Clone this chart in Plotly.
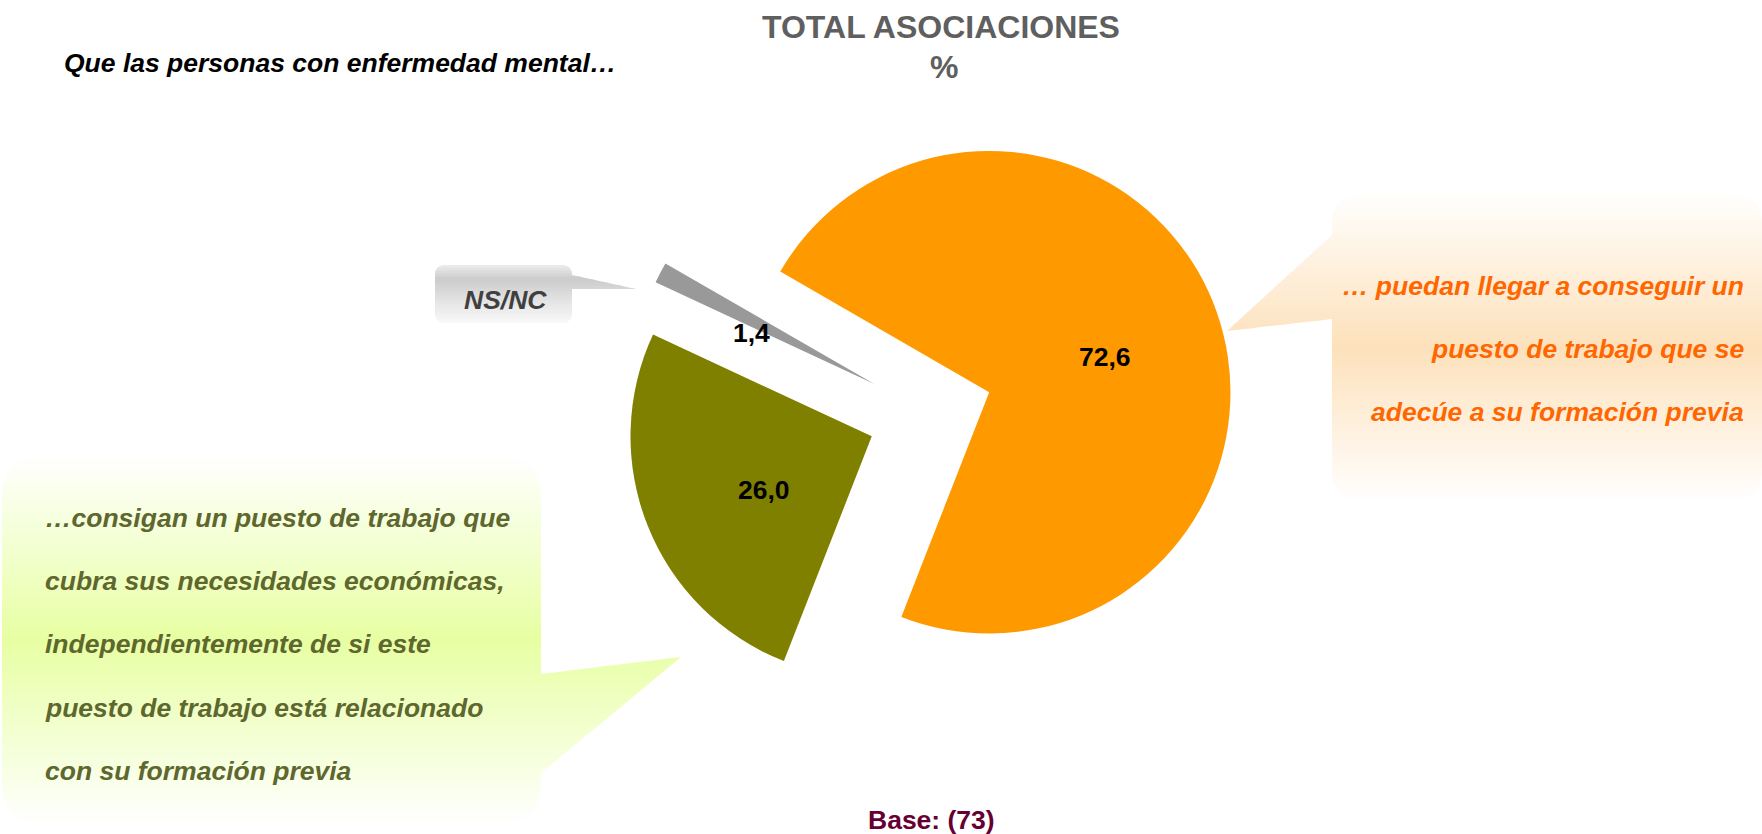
import math
import plotly.graph_objects as go

W, H = 1762, 834

# ---------------- data ----------------
categories = ["Adecuado a formación previa", "Cubra necesidades económicas", "NS/NC"]
values = [72.6, 26.0, 1.4]
slice_colors = ["#FF9900", "#808000", "#999999"]

title_lines = ["TOTAL ASOCIACIONES", "%"]
subtitle = "Que las personas con enfermedad mental…"
base_text = "Base: (73)"
orange_lines = ["… puedan llegar a conseguir un", "puesto de trabajo que se", "adecúe a su formación previa"]
green_lines = ["…consigan un puesto de trabajo que", "cubra sus necesidades económicas,",
               "independientemente de si este", "puesto de trabajo está relacionado",
               "con su formación previa"]
nsnc_label = "NS/NC"

FONT = "Liberation Sans, Arial, sans-serif"


def px(x):
    return x / W


def py(y):
    return 1 - y / H


fig = go.Figure()
fig.add_trace(go.Pie(
    labels=categories, values=values, sort=False, direction="clockwise", rotation=-60,
    pull=[0.26, 0.26, 0.26],
    marker=dict(colors=slice_colors, line=dict(width=0)),
    textinfo="none", hoverinfo="label+value", showlegend=False,
    domain=dict(x=[px(930 - 400), px(930 + 400)], y=[py(413 + 304), py(413 - 304)]),
))


# ---------------- gradient speech bubbles ----------------
def hex2rgb(h):
    h = h.lstrip("#")
    return [int(h[i:i + 2], 16) for i in (0, 2, 4)]


def grad(stops, f):
    f = max(0.0, min(1.0, f))
    for (f0, c0), (f1, c1) in zip(stops[:-1], stops[1:]):
        if f0 <= f <= f1:
            t = 0 if f1 == f0 else (f - f0) / (f1 - f0)
            a, b = hex2rgb(c0), hex2rgb(c1)
            return "rgb(%d,%d,%d)" % tuple(round(a[i] + (b[i] - a[i]) * t) for i in range(3))
    return stops[-1][1]


def bubble_polygon(x0, y0, x1, y1, r, pointer_side, pointer):
    pts = []
    n = 10

    def arc(cx, cy, a0, a1):
        out = []
        for k in range(n + 1):
            a = math.radians(a0 + (a1 - a0) * k / n)
            out.append((cx + r * math.cos(a), cy + r * math.sin(a)))
        return out
    pts += arc(x0 + r, y0 + r, 180, 270)
    pts += arc(x1 - r, y0 + r, 270, 360)
    if pointer_side == "right":
        pts += pointer
    pts += arc(x1 - r, y1 - r, 0, 90)
    pts += arc(x0 + r, y1 - r, 90, 180)
    if pointer_side == "left":
        pts += pointer
    return pts


def clip(poly, y, keep_below):
    def inside(p):
        return p[1] >= y if keep_below else p[1] <= y
    out = []
    for i in range(len(poly)):
        cur, prev = poly[i], poly[i - 1]
        if inside(cur):
            if not inside(prev):
                t = (y - prev[1]) / (cur[1] - prev[1])
                out.append((prev[0] + t * (cur[0] - prev[0]), y))
            out.append(cur)
        elif inside(prev):
            t = (y - prev[1]) / (cur[1] - prev[1])
            out.append((prev[0] + t * (cur[0] - prev[0]), y))
    return out


shapes = []


def add_bubble(x0, y0, x1, y1, r, side, pointer, stops, step=4):
    poly = bubble_polygon(x0, y0, x1, y1, r, side, pointer)
    ys = [p[1] for p in poly]
    top, bot = min(ys), max(ys)
    y = top
    while y < bot:
        ya, yb = y - 0.6, min(y + step, bot) + 0.6
        band = clip(clip(poly, ya, True), yb, False)
        if len(band) >= 3:
            f = ((y + step / 2) - y0) / (y1 - y0)
            path = "M " + " L ".join("%.5f,%.5f" % (px(a), py(b)) for a, b in band) + " Z"
            shapes.append(dict(type="path", xref="paper", yref="paper", path=path,
                               fillcolor=grad(stops, f), line=dict(width=0), layer="below"))
        y += step


# orange bubble (right)
add_bubble(1332, 192, 1762, 503, 30, "left",
           [(1332, 319), (1227, 331), (1332, 235)],
           [(0, "#ffffff"), (0.5, "#fde1bb"), (1, "#ffffff")])
# green bubble (left)
add_bubble(2, 455, 541, 825, 38, "right",
           [(541, 674), (681, 657), (541, 773)],
           [(0, "#ffffff"), (0.5, "#e7ffa3"), (1, "#ffffff")])
# NS/NC bubble
add_bubble(435, 265, 572, 323, 9, "right",
           [(572, 275), (636, 289), (572, 289)],
           [(0, "#eeeeee"), (0.25, "#cbcbcb"), (0.7, "#e8e8e8"), (1, "#f8f8f8")], step=3)

# ---------------- annotations ----------------
ann = []


def text(x, y, s, size, color, xanchor="center", bold=True, italic=False):
    t = s
    if italic:
        t = "<i>" + t + "</i>"
    if bold:
        t = "<b>" + t + "</b>"
    ann.append(dict(x=px(x), y=py(y), xref="paper", yref="paper", text=t, showarrow=False,
                    xanchor=xanchor, yanchor="middle",
                    font=dict(family=FONT, size=size, color=color)))


text(941, 27, title_lines[0], 32, "#5f5f5f")
text(944, 67, title_lines[1], 32, "#5f5f5f")
text(62, 63, subtitle, 26.5, "#000000", xanchor="left", italic=True)
text(931, 820, base_text, 26.5, "#660033")

for line, yy in zip(orange_lines, [286, 349, 412]):
    text(1746, yy, line, 26.5, "#ff6600", xanchor="right", italic=True)
for line, yy in zip(green_lines, [518, 581, 644, 708, 771]):
    text(43, yy, line, 26.5, "#5e672d", xanchor="left", italic=True)
text(505, 300, nsnc_label, 26.5, "#404040", italic=True)

label_pos = [(1105, 357), (764, 490), (751, 333)]
for v, (lx, ly) in zip(values, label_pos):
    text(lx, ly, ("%.1f" % v).replace(".", ","), 26.5, "#000000")

fig.update_layout(
    width=W, height=H, margin=dict(l=0, r=0, t=0, b=0),
    paper_bgcolor="white", plot_bgcolor="white",
    shapes=shapes, annotations=ann, showlegend=False,
)

fig.write_html("out.html", config={"displayModeBar": False},
               post_script="document.body.style.margin='0px';")
